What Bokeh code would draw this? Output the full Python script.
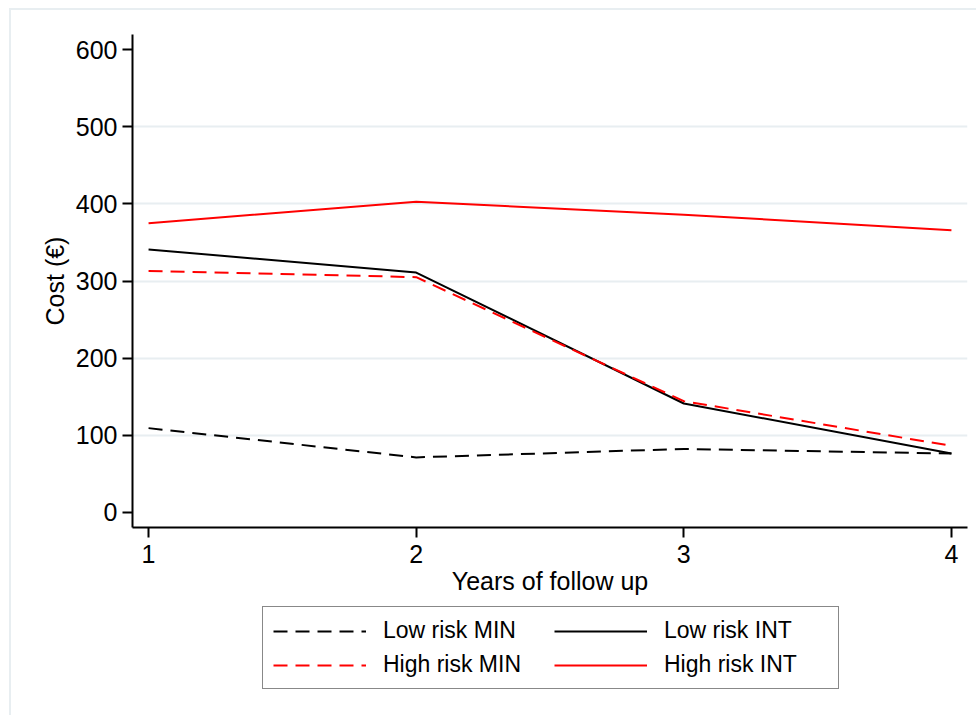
from bokeh.plotting import figure
from bokeh.layouts import column
from bokeh.models import Legend, LegendItem, FixedTicker, Range1d
from bokeh.embed import file_html
from bokeh.resources import INLINE

# ---- data ----
years = [1, 2, 3, 4]
low_risk_min = [109, 71, 82, 76]
low_risk_int = [341, 311, 141, 76]
high_risk_min = [313, 305, 144, 86]
high_risk_int = [375, 403, 386, 366]
y_ticks = [0, 100, 200, 300, 400, 500, 600]
grid_ticks = [100, 200, 300, 400, 500]
x_ticks = [1, 2, 3, 4]
series_names = ["Low risk MIN", "High risk MIN", "Low risk INT", "High risk INT"]

FONT = "Liberation Sans"
DASH = "14 8"

p = figure(width=965, height=594, output_backend="svg", toolbar_location=None,
           x_range=Range1d(0.94, 4.06), y_range=Range1d(-20, 620),
           min_border_left=121, min_border_top=24, min_border_right=9, min_border_bottom=77)
p.outline_line_color = None
p.background_fill_color = "white"
p.border_fill_color = "white"

p.line(years, low_risk_min, line_color="black", line_width=2, line_dash=DASH)
p.line(years, low_risk_int, line_color="black", line_width=2)
p.line(years, high_risk_min, line_color="red", line_width=2, line_dash=DASH)
p.line(years, high_risk_int, line_color="red", line_width=2)

# axes
for ax in (p.xaxis[0], p.yaxis[0]):
    ax.axis_line_color = "black"
    ax.axis_line_width = 2
    ax.major_tick_line_color = "black"
    ax.major_tick_line_width = 2
    ax.major_tick_out = 10
    ax.major_tick_in = 0
    ax.minor_tick_line_color = None
    ax.major_label_text_font = FONT
    ax.major_label_text_font_size = "25px"
    ax.major_label_text_color = "black"
    ax.axis_label_text_font = FONT
    ax.axis_label_text_font_size = "25px"
    ax.axis_label_text_font_style = "normal"
    ax.axis_label_text_color = "black"

p.xaxis.ticker = FixedTicker(ticks=x_ticks)
p.yaxis.ticker = FixedTicker(ticks=y_ticks)
p.xaxis.axis_label = "Years of follow up"
p.yaxis.axis_label = "Cost (€)"
p.xaxis.major_label_standoff = 7
p.yaxis.major_label_standoff = 5
p.xaxis.axis_label_standoff = 1
p.yaxis.axis_label_standoff = 4

p.xgrid.visible = False
p.ygrid.ticker = FixedTicker(ticks=grid_ticks)
p.ygrid.grid_line_color = "#E8EEF1"
p.ygrid.grid_line_width = 2

# ---- legend panel (separate strip below the plot) ----
lg = figure(width=965, height=111, output_backend="svg", toolbar_location=None,
            x_axis_type=None, y_axis_type=None,
            x_range=Range1d(-100, -99), y_range=Range1d(-100, -99),
            min_border=0)
lg.outline_line_color = None
lg.background_fill_color = "white"
lg.border_fill_color = "white"
lg.xgrid.visible = False
lg.ygrid.visible = False

k1 = lg.line(years, low_risk_min, line_color="black", line_width=2, line_dash=DASH)
k3 = lg.line(years, high_risk_min, line_color="red", line_width=2, line_dash=DASH)
k2 = lg.line(years, low_risk_int, line_color="black", line_width=2)
k4 = lg.line(years, high_risk_int, line_color="red", line_width=2)

legend = Legend(items=[LegendItem(label=n, renderers=[r])
                       for n, r in zip(series_names, [k1, k3, k2, k4])],
                location=(130, 26), ncols=2)
legend.label_text_font = FONT
legend.label_text_font_size = "23px"
legend.label_text_color = "black"
legend.glyph_width = 93
legend.glyph_height = 26
legend.label_height = 26
legend.label_width = 164
legend.label_standoff = 17
legend.spacing = 7
legend.padding = 10
legend.margin = 0
legend.border_line_color = "#111111"
legend.border_line_width = 1
legend.background_fill_color = "white"
legend.background_fill_alpha = 1
lg.add_layout(legend, "center")

layout = column(p, lg, spacing=0,
                styles={"margin-left": "9px", "margin-top": "8px",
                        "border-top": "2px solid #E8EEF1", "border-left": "2px solid #E8EEF1"})

open("out.html", "w").write(file_html(layout, INLINE))
